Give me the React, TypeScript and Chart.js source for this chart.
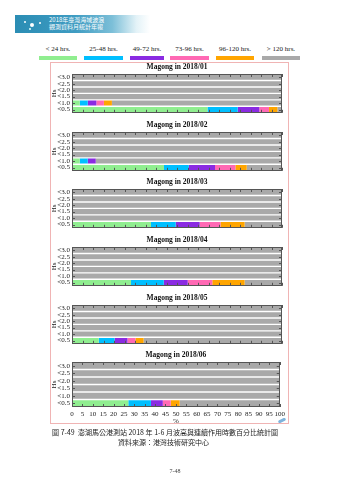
import React, { useEffect, useRef } from "react";
import { Chart, registerables } from "chart.js";

Chart.register(...registerables);

// ---------- data ----------
const HS_ROWS = ["<3.0", "<2.5", "<2.0", "<1.5", "<1.0", "<0.5"];
const DURATION_LABELS = ["< 24 hrs.", "25-48 hrs.", "49-72 hrs.", "73-96 hrs.", "96-120 hrs.", "> 120 hrs."];
const DURATION_COLORS = ["#90EE90", "#00BFFF", "#8A2BE2", "#FF69B4", "#FFA500", "#A9A9A9"];
const X_TICKS = [0, 5, 10, 15, 20, 25, 30, 35, 40, 45, 50, 55, 60, 65, 70, 75, 80, 85, 90, 95, 100];
const PANEL_TITLES = [
  "Magong in 2018/01",
  "Magong in 2018/02",
  "Magong in 2018/03",
  "Magong in 2018/04",
  "Magong in 2018/05",
  "Magong in 2018/06",
];

// one row per duration class (order of DURATION_LABELS), values per Hs row (order of HS_ROWS), in %
const M2018_01 = [
  [0, 0, 0, 0, 3.7, 64.5],
  [0, 0, 0, 0, 3.8, 14.4],
  [0, 0, 0, 0, 4.1, 10.3],
  [0, 0, 0, 0, 3.6, 4.6],
  [0, 0, 0, 0, 3.8, 4.0],
  [100, 100, 100, 100, 81.0, 2.2],
];
const M2018_02 = [
  [0, 0, 0, 0, 3.7, 43.8],
  [0, 0, 0, 0, 3.8, 11.8],
  [0, 0, 0, 0, 3.8, 12.5],
  [0, 0, 0, 0, 0, 9.7],
  [0, 0, 0, 0, 0, 5.4],
  [100, 100, 100, 100, 88.7, 16.8],
];
const M2018_03 = [
  [0, 0, 0, 0, 0, 37.6],
  [0, 0, 0, 0, 0, 11.8],
  [0, 0, 0, 0, 0, 11.4],
  [0, 0, 0, 0, 0, 9.9],
  [0, 0, 0, 0, 0, 11.5],
  [100, 100, 100, 100, 100, 17.8],
];
const M2018_04 = [
  [0, 0, 0, 0, 0, 28.1],
  [0, 0, 0, 0, 0, 15.6],
  [0, 0, 0, 0, 0, 11.4],
  [0, 0, 0, 0, 0, 11.7],
  [0, 0, 0, 0, 0, 15.4],
  [100, 100, 100, 100, 100, 17.8],
];
const M2018_05 = [
  [0, 0, 0, 0, 0, 12.7],
  [0, 0, 0, 0, 0, 7.6],
  [0, 0, 0, 0, 0, 6.1],
  [0, 0, 0, 0, 0, 3.8],
  [0, 0, 0, 0, 0, 3.9],
  [100, 100, 100, 100, 100, 65.9],
];
const M2018_06 = [
  [0, 0, 0, 0, 0, 27.1],
  [0, 0, 0, 0, 0, 10.9],
  [0, 0, 0, 0, 0, 5.7],
  [0, 0, 0, 0, 0, 3.8],
  [0, 0, 0, 0, 0, 4.3],
  [100, 100, 100, 100, 100, 48.2],
];
const MONTH_DATA = [M2018_01, M2018_02, M2018_03, M2018_04, M2018_05, M2018_06];

const CAPTION = "圖 7-49  澎湖馬公港測站 2018 年 1-6 月波高與連續作用時數百分比統計圖";
const SOURCE = "資料來源：港灣技術研究中心";
const PAGE_NO = "7-48";
const BANNER_1 = "2018年臺灣海域波浪";
const BANNER_2 = "觀測資料月統計年報";

// ---------- layout ----------
const SERIF = "'Liberation Serif', 'Times New Roman', 'DejaVu Serif', serif";
const CJK = "'Noto Sans CJK TC', 'Noto Sans CJK SC', sans-serif";
const PANEL_TITLE_Y = [66, 124, 181, 239, 297, 354];
const LEGEND_BARS = [
  [39, 38],
  [84, 39],
  [130, 34],
  [170, 39],
  [216, 38],
  [262, 38],
];

const frameTicks = {
  id: "frameTicks",
  afterDatasetsDraw(chart: any) {
    const { ctx, chartArea: a, scales } = chart;
    const xs = scales.x;
    const ys = scales.y;
    ctx.save();
    ctx.strokeStyle = "#555";
    ctx.lineWidth = 1;
    ctx.strokeRect(Math.round(a.left) + 0.5, Math.round(a.top) + 0.5, Math.round(a.width) - 1, Math.round(a.height) - 1);
    ctx.beginPath();
    X_TICKS.forEach((v) => {
      const px = Math.round(xs.getPixelForValue(v)) + 0.5;
      ctx.moveTo(px, a.top);
      ctx.lineTo(px, a.top + 3);
      ctx.moveTo(px, a.bottom);
      ctx.lineTo(px, a.bottom - 3);
    });
    HS_ROWS.forEach((_, i) => {
      const py = Math.round(ys.getPixelForValue(i)) + 0.5;
      ctx.moveTo(a.left, py);
      ctx.lineTo(a.left + 3, py);
      ctx.moveTo(a.right, py);
      ctx.lineTo(a.right - 3, py);
    });
    ctx.stroke();
    ctx.restore();
  },
};

function Panel({ idx }: { idx: number }) {
  const ref = useRef<HTMLCanvasElement>(null);
  const showX = idx === 5;
  useEffect(() => {
    const data = MONTH_DATA[idx];
    const chart = new Chart(ref.current as HTMLCanvasElement, {
      type: "bar",
      data: {
        labels: HS_ROWS,
        datasets: DURATION_LABELS.map((label, i) => ({
          label,
          data: data[i],
          backgroundColor: DURATION_COLORS[i],
          borderWidth: 0,
          barPercentage: 0.78,
          categoryPercentage: 1,
        })),
      },
      options: {
        indexAxis: "y",
        animation: false,
        responsive: true,
        maintainAspectRatio: false,
        layout: { padding: { left: 0, right: 6, top: 0, bottom: 0 } },
        plugins: {
          legend: { display: false },
          tooltip: { enabled: false },
          title: {
            display: true,
            text: PANEL_TITLES[idx],
            fullSize: false,
            color: "#111",
            font: { family: SERIF, size: 7.5, weight: "bold" },
            padding: { top: 2, bottom: 2 },
          },
        },
        scales: {
          x: {
            type: "linear",
            display: showX,
            min: 0,
            max: 100,
            stacked: true,
            grid: { display: false, drawTicks: false },
            border: { display: false },
            ticks: {
              stepSize: 5,
              autoSkip: false,
              maxRotation: 0,
              padding: 3,
              color: "#222",
              font: { family: SERIF, size: 7 },
            },
            title: { display: true, text: "%", padding: 0, color: "#222", font: { family: SERIF, size: 7 } },
            afterFit(s: any) {
              s.height = showX ? 18 : 0;
            },
          },
          y: {
            type: "category",
            stacked: true,
            offset: true,
            grid: { display: false, drawTicks: false },
            border: { display: false },
            ticks: { autoSkip: false, padding: 2, color: "#222", font: { family: SERIF, size: 7 } },
            title: { display: true, text: "Hs", padding: 0, color: "#222", font: { family: SERIF, size: 7 } },
            afterFit(s: any) {
              s.width = 22;
            },
          },
        },
      },
      plugins: [frameTicks],
    } as any);
    return () => chart.destroy();
  }, [idx]);
  return (
    <div
      style={{
        position: "absolute",
        left: 50,
        top: PANEL_TITLE_Y[idx] - 5,
        width: 238,
        height: showX ? 76 : 58,
      }}
    >
      <canvas ref={ref} />
    </div>
  );
}

export default function App() {
  return (
    <div
      style={{
        position: "absolute",
        left: 0,
        top: 0,
        width: 339,
        height: 480,
        background: "#fff",
        overflow: "hidden",
      }}
    >
      {/* header banner */}
      <div
        style={{
          position: "absolute",
          left: 15,
          top: 15,
          width: 135,
          height: 18,
          background:
            "linear-gradient(90deg, #2b8db4 0%, #3f9cc2 45%, #7cbfd8 72%, rgba(200,230,240,0.5) 90%, rgba(255,255,255,0) 100%)",
        }}
      >
        <div style={{ position: "absolute", left: 9, top: 6, width: 2, height: 2, borderRadius: 1, background: "#fff" }} />
        <div style={{ position: "absolute", left: 15, top: 8, width: 4, height: 4, borderRadius: 2, background: "#fff" }} />
        <div style={{ position: "absolute", left: 14, top: 13, width: 2, height: 2, borderRadius: 1, background: "#dff" }} />
        <div style={{ position: "absolute", left: 24, top: 7, width: 2, height: 2, borderRadius: 1, background: "#fff" }} />
        <div
          style={{
            position: "absolute",
            left: 34,
            top: 2,
            fontFamily: CJK,
            fontSize: 6,
            lineHeight: "6.6px",
            color: "#fff",
            whiteSpace: "nowrap",
          }}
        >
          <div>{BANNER_1}</div>
          <div>{BANNER_2}</div>
        </div>
      </div>

      {/* legend */}
      {DURATION_LABELS.map((label, i) => (
        <React.Fragment key={label}>
          <div
            style={{
              position: "absolute",
              left: LEGEND_BARS[i][0] - 10,
              width: LEGEND_BARS[i][1] + 20,
              top: 44,
              height: 10,
              lineHeight: "10px",
              textAlign: "center",
              fontFamily: SERIF,
              fontSize: 7,
              color: "#222",
              whiteSpace: "nowrap",
            }}
          >
            {label}
          </div>
          <div
            style={{
              position: "absolute",
              left: LEGEND_BARS[i][0],
              width: LEGEND_BARS[i][1],
              top: 56,
              height: 4,
              background: DURATION_COLORS[i],
            }}
          />
        </React.Fragment>
      ))}

      {/* pink frame */}
      <div
        style={{
          position: "absolute",
          left: 50,
          top: 62,
          width: 239,
          height: 362,
          border: "1px solid #f0b4b4",
          boxSizing: "border-box",
        }}
      />

      {PANEL_TITLES.map((_, i) => (
        <Panel key={i} idx={i} />
      ))}

      {/* small corner logo */}
      <div
        style={{
          position: "absolute",
          left: 278,
          top: 419,
          width: 8,
          height: 3,
          borderRadius: 2,
          background: "#7fb3dc",
          transform: "rotate(-25deg)",
        }}
      />

      {/* captions */}
      <div
        style={{
          position: "absolute",
          left: 0,
          width: 330,
          top: 427,
          height: 10,
          lineHeight: "10px",
          textAlign: "center",
          fontFamily: CJK,
          fontSize: 7,
          color: "#222",
          whiteSpace: "pre",
        }}
      >
        {CAPTION}
      </div>
      <div
        style={{
          position: "absolute",
          left: 0,
          width: 327,
          top: 437,
          height: 10,
          lineHeight: "10px",
          textAlign: "center",
          fontFamily: CJK,
          fontSize: 7,
          color: "#222",
          whiteSpace: "nowrap",
        }}
      >
        {SOURCE}
      </div>
      <div
        style={{
          position: "absolute",
          left: 0,
          width: 350,
          top: 466,
          height: 10,
          lineHeight: "10px",
          textAlign: "center",
          fontFamily: SERIF,
          fontSize: 6,
          color: "#444",
        }}
      >
        {PAGE_NO}
      </div>
    </div>
  );
}
